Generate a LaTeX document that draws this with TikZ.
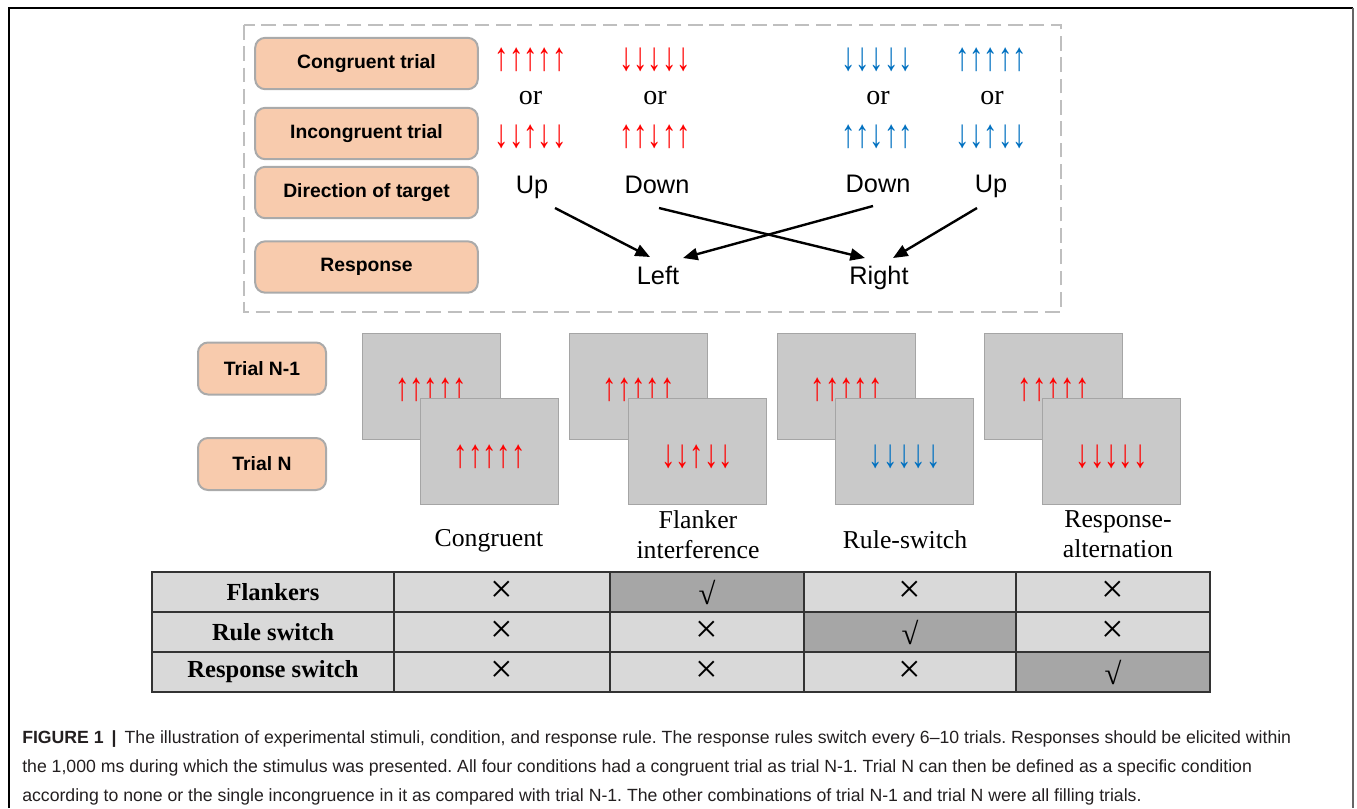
\documentclass[tikz,border=0pt]{standalone}
\usepackage{fontspec}
\usepackage{graphicx}
\setmainfont{Liberation Serif}
\newfontfamily\arial{Liberation Sans}
\newfontfamily\tnr{Liberation Serif}
\usetikzlibrary{arrows.meta}
\definecolor{orangefill}{RGB}{248,203,173}
\definecolor{boxedge}{RGB}{170,170,170}
\definecolor{stimgray}{RGB}{201,201,201}
\definecolor{stimedge}{RGB}{165,165,165}
\definecolor{arrred}{RGB}{255,0,0}
\definecolor{arrblue}{RGB}{0,112,192}
\definecolor{cellgray}{RGB}{217,217,217}
\definecolor{cellhi}{RGB}{166,166,166}
\definecolor{dashgray}{RGB}{191,191,191}
\definecolor{captext}{RGB}{35,31,32}
\newcommand\tallarr[1]{\scalebox{1}[1.4]{#1}}
\tikzset{
  labelbox/.style={draw=boxedge, line width=1.5pt, fill=orangefill, rounded corners=7.5pt,
    inner sep=0pt, font=\arial\bfseries\fontsize{14.5}{17}\selectfont},
  widebox/.style={labelbox, minimum width=167pt, minimum height=38.5pt},
  trialbox/.style={labelbox, minimum width=96pt, minimum height=39pt},
  stim/.style={draw=stimedge, line width=0.75pt, fill=stimgray, minimum width=103.5pt,
    minimum height=79.5pt, inner sep=0pt},
  arrs/.style={inner sep=0pt, font=\tnr\fontsize{21.5}{21.5}\selectfont},
  redarr/.style={arrs, text=arrred},
  bluearr/.style={arrs, text=arrblue},
  orword/.style={inner sep=0pt, anchor=base, font=\tnr\fontsize{21}{21}\selectfont},
  dirword/.style={inner sep=0pt, anchor=base, font=\arial\fontsize{19}{19}\selectfont},
  condword/.style={inner sep=0pt, anchor=base, font=\tnr\fontsize{19.3}{19.3}\selectfont},
  conn/.style={-{Triangle[length=11pt,width=9pt]}, line width=1.8pt},
  cell/.style={draw=black!80, line width=1.1pt, fill=cellgray, minimum height=30pt, inner sep=0pt,
    font=\tnr\fontsize{30}{30}\selectfont},
  hicell/.style={cell, fill=cellhi, font=\tnr\fontsize{23}{23}\selectfont},
  rowhead/.style={cell, font=\tnr\bfseries\fontsize{18.4}{18.4}\selectfont},
  wA/.style={minimum width=181.5pt},
  wB/.style={minimum width=162pt},
  wC/.style={minimum width=144.75pt},
  wD/.style={minimum width=159pt},
  wE/.style={minimum width=145.5pt},
  capline/.style={inner sep=0pt, anchor=base west, text=captext, font=\arial\fontsize{13.25}{13.25}\selectfont}
}
\begin{document}
\frenchspacing
\begin{tikzpicture}[x=0.75pt, y=-0.75pt]
\useasboundingbox (0,0) rectangle (1357,808);
% outer frame
\draw[black, line width=1.2pt] (9,808) -- (9,8) -- (1353,8);
\draw[black!60, line width=1.2pt] (1353,8) -- (1353,808);
% dashed rule panel
\draw[dashgray, line width=1.5pt, dash pattern=on 11pt off 5pt] (244,25) rectangle (1061,312);
% label boxes
\node[widebox] (cong) at (366.5,63.5) {Congruent trial};
\node[widebox] (incong) at (366.5,133.5) {Incongruent trial};
\node[widebox] (dir) at (366.5,192.5) {Direction of target};
\node[widebox] (resp) at (366.5,267) {Response};
% column 1
\node[redarr] (c1a) at (530.5,59.5) {\tallarr{↑↑↑↑↑}};
\node[orword] (c1or) at (530.5,104) {or};
\node[redarr] (c1b) at (530.5,137) {\tallarr{↓↓↑↓↓}};
\node[dirword] (up1) at (532,193) {Up};
% column 2
\node[redarr] (c2a) at (655,59.5) {\tallarr{↓↓↓↓↓}};
\node[orword] (c2or) at (655,104) {or};
\node[redarr] (c2b) at (655,137) {\tallarr{↑↑↓↑↑}};
\node[dirword] (down1) at (657,193) {Down};
% column 3
\node[bluearr] (c3a) at (877,59.5) {\tallarr{↓↓↓↓↓}};
\node[orword] (c3or) at (878,104) {or};
\node[bluearr] (c3b) at (877,137) {\tallarr{↑↑↓↑↑}};
\node[dirword] (down2) at (878,192) {Down};
% column 4
\node[bluearr] (c4a) at (991,59.5) {\tallarr{↑↑↑↑↑}};
\node[orword] (c4or) at (992,104) {or};
\node[bluearr] (c4b) at (991,137) {\tallarr{↓↓↑↓↓}};
\node[dirword] (up2) at (991,192) {Up};
% responses
\node[dirword] (left) at (658,284) {Left};
\node[dirword] (right) at (879,284) {Right};
\draw[conn] ([shift={(23,15)}]up1.base) -- ([shift={(-8,-27)}]left.base);
\draw[conn] ([shift={(2,15)}]down1.base) -- ([shift={(-14,-26)}]right.base);
\draw[conn] ([shift={(-5,14)}]down2.base) -- ([shift={(25,-26)}]left.base);
\draw[conn] ([shift={(-14,16)}]up2.base) -- ([shift={(14,-26)}]right.base);
% trial boxes
\node[trialbox] (tprev) at (262,368.5) {Trial N-1};
\node[trialbox] (tcur) at (262,464) {Trial N};
% stimulus pairs
\node[stim] (s1b) at (431,386) {};
\node[redarr] (s1ba) at (431,390) {\tallarr{↑↑↑↑↑}};
\node[stim] (s1f) at (489.5,451.5) {};
\node[redarr] (s1fa) at (489.5,457) {\tallarr{↑↑↑↑↑}};
\node[stim] (s2b) at (638.5,386) {};
\node[redarr] (s2ba) at (638.5,390) {\tallarr{↑↑↑↑↑}};
\node[stim] (s2f) at (697,451.5) {};
\node[redarr] (s2fa) at (697,457) {\tallarr{↓↓↑↓↓}};
\node[stim] (s3b) at (846.5,386) {};
\node[redarr] (s3ba) at (846.5,390) {\tallarr{↑↑↑↑↑}};
\node[stim] (s3f) at (904.5,451.5) {};
\node[bluearr] (s3fa) at (904.5,457) {\tallarr{↓↓↓↓↓}};
\node[stim] (s4b) at (1053.5,386) {};
\node[redarr] (s4ba) at (1053.5,390) {\tallarr{↑↑↑↑↑}};
\node[stim] (s4f) at (1111.5,451.5) {};
\node[redarr] (s4fa) at (1111.5,457) {\tallarr{↓↓↓↓↓}};
% condition names
\node[condword] (k1) at (489,546) {Congruent};
\node[condword] (k2a) at (698,528) {Flanker};
\node[condword] (k2b) at (698,558) {interference};
\node[condword] (k3) at (905,548) {Rule-switch};
\node[condword] (k4a) at (1118,527) {Response-};
\node[condword] (k4b) at (1118,557) {alternation};
% table
\node[rowhead, wA] (r1c1) at (273,592) {Flankers};
\node[cell, wB] (r1c2) at (502,592) {×};
\node[hicell, wC] (r1c3) at (707,592) {√};
\node[cell, wD] (r1c4) at (910,592) {×};
\node[cell, wE] (r1c5) at (1113,592) {×};
\node[rowhead, wA] (r2c1) at (273,632) {Rule switch};
\node[cell, wB] (r2c2) at (502,632) {×};
\node[cell, wC] (r2c3) at (707,632) {×};
\node[hicell, wD] (r2c4) at (910,632) {√};
\node[cell, wE] (r2c5) at (1113,632) {×};
\node[rowhead, wA] (r3c1) at (273,672) {Response switch};
\node[cell, wB] (r3c2) at (502,672) {×};
\node[cell, wC] (r3c3) at (707,672) {×};
\node[cell, wD] (r3c4) at (910,672) {×};
\node[hicell, wE] (r3c5) at (1113,672) {√};
% caption
\node[capline] (cap1) at (22,743) {\textbf{FIGURE 1}\hspace{6pt}\textbf{|}\hspace{6pt}The illustration of experimental stimuli, condition, and response rule. The response rules switch every 6–10 trials. Responses should be elicited within};
\node[capline] (cap2) at (22,772) {the 1,000 ms during which the stimulus was presented. All four conditions had a congruent trial as trial N-1. Trial N can then be defined as a specific condition};
\node[capline] (cap3) at (22,801) {according to none or the single incongruence in it as compared with trial N-1. The other combinations of trial N-1 and trial N were all filling trials.};
\end{tikzpicture}
\end{document}
